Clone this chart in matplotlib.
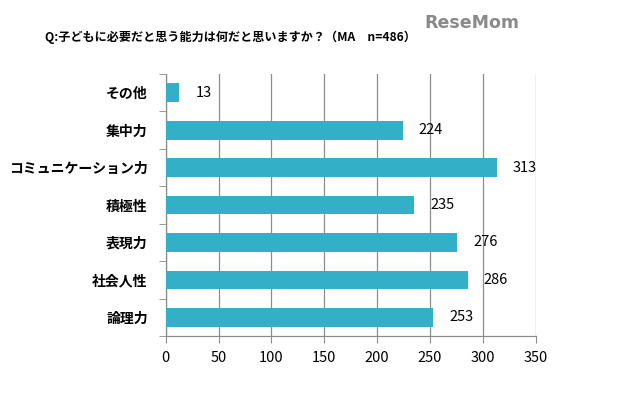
import matplotlib.pyplot as plt
import numpy as np

plt.rcParams['font.family'] = ['Noto Sans CJK JP', 'DejaVu Sans']

categories = ["論理力", "社会人性", "表現力", "積極性", "コミュニケーション力", "集中力", "その他"]
counts = [253, 286, 276, 235, 313, 224, 13]
x_ticks = [0, 50, 100, 150, 200, 250, 300, 350]

BAR_COLOR = "#33AFC7"
AXIS_GRAY = "#8c8c8c"

fig = plt.figure(figsize=(6.4, 3.96), dpi=100)
ax = fig.add_axes([0.259, 0.1515, 0.578, 0.6616])

y = np.arange(len(categories))
ax.barh(y, counts, height=0.5, color=BAR_COLOR, zorder=3)
for yi, v in zip(y, counts):
    ax.text(v + 15, yi, str(v), va="center", ha="left", fontsize=10.5, zorder=4)

ax.set_xlim(0, 350)
ax.set_ylim(-0.5, len(categories) - 0.5)
ax.set_xticks(x_ticks)
ax.set_xticklabels([str(t) for t in x_ticks], fontsize=10.5)
ax.grid(axis="x", color=AXIS_GRAY, linewidth=0.9, zorder=0)

# category labels at centres, tick marks on the boundaries
ax.set_yticks(y)
ax.set_yticklabels(categories, fontsize=10, fontweight="bold")
ax.tick_params(axis="y", length=0, pad=13)
ax.set_yticks(np.arange(-0.5, len(categories)), minor=True)
ax.tick_params(axis="y", which="minor", length=5, color=AXIS_GRAY, direction="out")
ax.tick_params(axis="x", length=5, color=AXIS_GRAY, pad=6)

for side in ["top", "right"]:
    ax.spines[side].set_visible(False)
for side in ["left", "bottom"]:
    ax.spines[side].set_color(AXIS_GRAY)
    ax.spines[side].set_linewidth(0.9)

fig.text(0.36, 0.907, "Q:子どもに必要だと思う能力は何だと思いますか？（MA　n=486）",
         ha="center", va="center", fontsize=8.7, fontweight="bold")
fig.text(0.738, 0.942, "ReseMom", ha="center", va="center", fontsize=12.5,
         fontweight="bold", color="#8a8a8a", family="DejaVu Sans")

fig.savefig("out.png", dpi=100)
